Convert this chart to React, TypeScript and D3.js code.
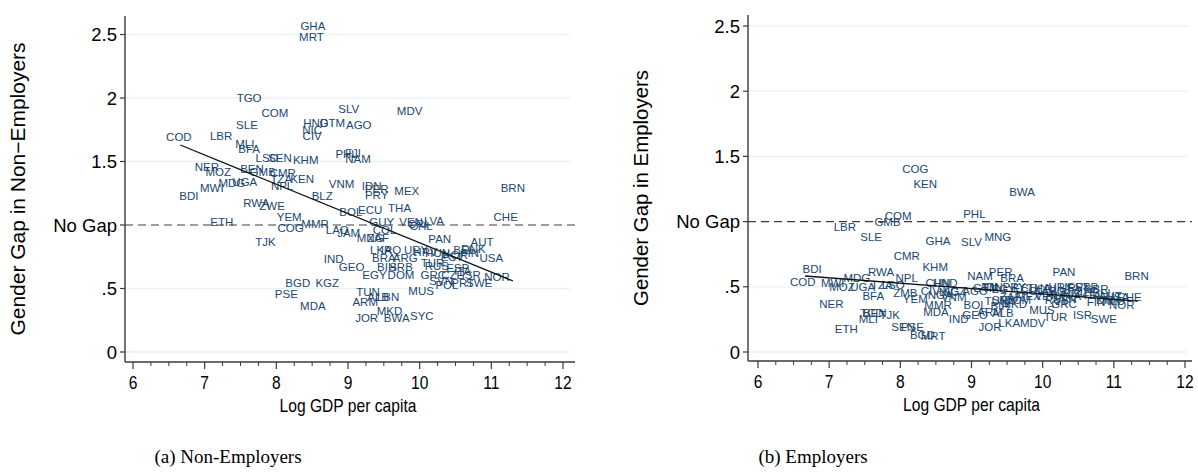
import React from "react";
import * as d3 from "d3";

type Pt = [string, number, number];

// country code, log GDP per capita, gender gap (non-employers)
const nonEmployers: Pt[] = [
  ["GHA", 8.51, 2.57], ["MRT", 8.49, 2.48], ["TGO", 7.62, 2.0], ["COM", 7.98, 1.88],
  ["SLE", 7.59, 1.79], ["LBR", 7.23, 1.7], ["COD", 6.64, 1.69], ["MLI", 7.56, 1.64],
  ["BFA", 7.62, 1.6], ["LSO", 7.87, 1.53], ["SEN", 8.05, 1.53], ["KHM", 8.41, 1.51],
  ["NER", 7.03, 1.46], ["MOZ", 7.19, 1.42], ["BEN", 7.66, 1.44], ["GMB", 7.81, 1.42],
  ["CMR", 8.09, 1.41], ["TZA", 8.07, 1.36], ["KEN", 8.36, 1.36], ["NPL", 8.08, 1.31],
  ["UGA", 7.56, 1.34], ["MDG", 7.38, 1.33], ["MWI", 7.1, 1.29], ["BDI", 6.78, 1.23],
  ["BLZ", 8.64, 1.23], ["VNM", 8.91, 1.32], ["RWA", 7.72, 1.17], ["ZWE", 7.94, 1.15],
  ["YEM", 8.18, 1.06], ["ETH", 7.24, 1.02], ["COG", 8.2, 0.98], ["MMR", 8.54, 1.01],
  ["TJK", 7.85, 0.87], ["LAO", 8.85, 0.96], ["JAM", 9.01, 0.94], ["IND", 8.8, 0.73],
  ["GEO", 9.05, 0.67], ["BGD", 8.3, 0.54], ["KGZ", 8.71, 0.54], ["PSE", 8.14, 0.46],
  ["MDA", 8.51, 0.36], ["BOL", 9.04, 1.1], ["ECU", 9.31, 1.12], ["THA", 9.72, 1.13],
  ["IDN", 9.33, 1.31], ["PER", 9.4, 1.28], ["PRY", 9.4, 1.24], ["MEX", 9.82, 1.27],
  ["BRN", 11.3, 1.29], ["CHE", 11.2, 1.06], ["GUY", 9.47, 1.02], ["COL", 9.51, 0.96],
  ["VEN", 9.88, 1.02], ["CRI", 9.97, 1.01], ["CHL", 10.02, 0.99], ["LVA", 10.2, 1.03],
  ["MNG", 9.31, 0.9], ["ZAF", 9.42, 0.9], ["PAN", 10.28, 0.89], ["AUT", 10.87, 0.87],
  ["LKA", 9.46, 0.8], ["IRQ", 9.6, 0.8], ["BRA", 9.5, 0.74], ["ARG", 9.8, 0.74],
  ["URY", 9.95, 0.8], ["HRV", 10.08, 0.79], ["HUN", 10.25, 0.78], ["KOR", 10.5, 0.76],
  ["EST", 10.45, 0.75], ["BEL", 10.62, 0.8], ["DNK", 10.75, 0.81], ["FIN", 10.7, 0.78],
  ["USA", 11.0, 0.74], ["BIH", 9.54, 0.67], ["SRB", 9.74, 0.67], ["EGY", 9.37, 0.61],
  ["DOM", 9.74, 0.61], ["RUS", 10.24, 0.68], ["TUR", 10.18, 0.7], ["GRC", 10.19, 0.61],
  ["ESP", 10.53, 0.66], ["CZE", 10.46, 0.61], ["ITA", 10.6, 0.64], ["ISR", 10.72, 0.61],
  ["NOR", 11.08, 0.59], ["SWE", 10.83, 0.54], ["SVN", 10.3, 0.56], ["POL", 10.38, 0.53],
  ["PRT", 10.6, 0.54], ["MUS", 10.02, 0.48], ["TUN", 9.28, 0.47], ["ALB", 9.42, 0.43],
  ["LBN", 9.56, 0.43], ["ARM", 9.24, 0.39], ["MKD", 9.58, 0.32], ["JOR", 9.26, 0.27],
  ["BWA", 9.68, 0.27], ["SYC", 10.03, 0.28], ["SLV", 9.01, 1.91], ["MDV", 9.86, 1.9],
  ["HND", 8.55, 1.8], ["GTM", 8.78, 1.8], ["AGO", 9.15, 1.79], ["NIC", 8.5, 1.75],
  ["CIV", 8.5, 1.7], ["PHL", 8.98, 1.56], ["FJI", 9.07, 1.57], ["NAM", 9.14, 1.52],
];

// country code, log GDP per capita, gender gap (employers)
const employers: Pt[] = [
  ["COG", 8.21, 1.4], ["KEN", 8.35, 1.29], ["BWA", 9.71, 1.23], ["PHL", 9.04, 1.06],
  ["COM", 7.97, 1.04], ["GMB", 7.82, 1.0], ["LBR", 7.22, 0.96], ["SLE", 7.59, 0.88],
  ["GHA", 8.53, 0.85], ["SLV", 9.0, 0.84], ["MNG", 9.37, 0.88], ["CMR", 8.09, 0.74],
  ["KHM", 8.49, 0.65], ["BDI", 6.76, 0.64], ["COD", 6.63, 0.54], ["RWA", 7.73, 0.61],
  ["NPL", 8.09, 0.57], ["MWI", 7.05, 0.53], ["MDG", 7.39, 0.57], ["MOZ", 7.18, 0.5],
  ["UGA", 7.47, 0.5], ["TZA", 7.74, 0.51], ["LSO", 7.9, 0.51], ["ZMB", 8.07, 0.45],
  ["BFA", 7.62, 0.43], ["NER", 7.03, 0.37], ["YEM", 8.21, 0.41], ["NGA", 8.56, 0.44],
  ["TCD", 7.6, 0.3], ["BEN", 7.64, 0.3], ["TJK", 7.85, 0.28], ["MLI", 7.55, 0.25],
  ["ETH", 7.24, 0.18], ["SEN", 8.04, 0.19], ["PSE", 8.17, 0.19], ["BGD", 8.31, 0.13],
  ["MRT", 8.46, 0.12], ["MMR", 8.53, 0.36], ["MDA", 8.5, 0.31], ["IND", 8.82, 0.25],
  ["GEO", 9.05, 0.28], ["BOL", 9.05, 0.36], ["JOR", 9.26, 0.19], ["LKA", 9.53, 0.22],
  ["ARM", 9.26, 0.31], ["ALB", 9.44, 0.3], ["MDV", 9.86, 0.22], ["MUS", 9.99, 0.32],
  ["TUR", 10.18, 0.27], ["ISR", 10.56, 0.28], ["SWE", 10.86, 0.25], ["SVN", 10.31, 0.41],
  ["CHE", 11.22, 0.42], ["NOR", 11.11, 0.36], ["BRN", 11.32, 0.58], ["PAN", 10.3, 0.61],
  ["PER", 9.41, 0.61], ["NAM", 9.12, 0.58], ["BRA", 9.57, 0.57], ["CHN", 8.53, 0.53],
  ["HND", 8.63, 0.53], ["AGO", 9.05, 0.47], ["GTM", 9.2, 0.49], ["IDN", 9.3, 0.5],
  ["EGY", 9.45, 0.48], ["PRY", 9.6, 0.5], ["ECU", 9.75, 0.49], ["COL", 9.85, 0.47],
  ["THA", 9.95, 0.49], ["CRI", 10.05, 0.48], ["ARG", 10.15, 0.47], ["URY", 10.25, 0.5],
  ["HRV", 10.4, 0.49], ["EST", 10.5, 0.5], ["POL", 10.45, 0.45], ["CZE", 10.6, 0.46],
  ["ESP", 10.62, 0.5], ["GBR", 10.75, 0.48], ["ITA", 10.7, 0.44], ["BEL", 10.85, 0.45],
  ["MEX", 9.8, 0.43], ["DOM", 9.65, 0.4], ["ZAF", 9.55, 0.42], ["SRB", 9.45, 0.4],
  ["TUN", 9.35, 0.39], ["BIH", 9.4, 0.35], ["MKD", 9.6, 0.37], ["VNM", 8.75, 0.42],
  ["NIC", 8.68, 0.46], ["CIV", 8.42, 0.47], ["VEN", 10.05, 0.43], ["FIN", 10.75, 0.38],
  ["DNK", 10.92, 0.4], ["AUT", 10.95, 0.43], ["NLD", 11.0, 0.39], ["USA", 11.05, 0.42],
  ["FJI", 9.25, 0.5], ["LVA", 10.4, 0.43], ["HUN", 10.22, 0.44], ["RUS", 10.2, 0.4],
  ["GRC", 10.3, 0.37], ["KGZ", 8.76, 0.47],
];

// fitted line end points (log GDP, gap)
const nonEmpFit: [number, number][] = [[6.66, 1.63], [11.3, 0.56]];
const empFit: [number, number][] = [[6.66, 0.583], [11.34, 0.39]];

const xTicks = [6, 7, 8, 9, 10, 11, 12];
const yTicks = [0, 0.5, 1, 1.5, 2, 2.5];
const yTickLabels = ["0", ".5", "No Gap", "1.5", "2", "2.5"];

const navy = "#1a476f";
const grid = "#eaf2f3";
const axisCol = "#3a3a3a";
const sans = "'Liberation Sans', Arial, Helvetica, sans-serif";
const serif = "'Liberation Serif', 'DejaVu Serif', serif";

type PanelProps = {
  data: Pt[];
  fit: [number, number][];
  frame: { left: number; right: number; top: number; bottom: number };
  xRange: [number, number];
  yRange: [number, number];
  yTitle: string;
  yTitleLen: number;
};

const Panel = ({ data, fit, frame, xRange, yRange, yTitle, yTitleLen }: PanelProps) => {
  const x = d3.scaleLinear().domain([6, 12]).range(xRange);
  const y = d3.scaleLinear().domain([0, 2.5]).range(yRange);
  const line = d3.line<[number, number]>().x((d) => x(d[0])).y((d) => y(d[1]));
  const minor = d3.range(6, 12.001, 0.25).filter((v) => v % 1 !== 0);
  const midY = (frame.top + frame.bottom) / 2;

  return (
    <g>
      {/* grid lines */}
      {yTicks.filter((t) => t !== 1).map((t) => (
        <line key={t} x1={frame.left} x2={frame.right - 5} y1={y(t)} y2={y(t)} stroke={grid} strokeWidth={1.3} />
      ))}
      {/* no-gap reference */}
      <line x1={frame.left} x2={frame.right} y1={y(1)} y2={y(1)} stroke="#3c3c3c" strokeWidth={1.2} strokeDasharray="8,5" />

      {/* country labels */}
      {data.map(([code, gx, gy], i) => (
        <text key={i} x={x(gx)} y={y(gy)} textAnchor="middle" dominantBaseline="central"
          fontFamily={sans} fontSize={11.5} fill={navy}>{code}</text>
      ))}

      {/* fitted line */}
      <path d={line(fit) || ""} fill="none" stroke="#111" strokeWidth={1.3} />

      {/* y axis */}
      <line x1={frame.left} x2={frame.left} y1={frame.top} y2={frame.bottom} stroke={axisCol} strokeWidth={1.4} />
      {yTicks.map((t, i) => (
        <g key={t}>
          <line x1={frame.left - 5} x2={frame.left} y1={y(t)} y2={y(t)} stroke={axisCol} strokeWidth={1.2} />
          <text x={frame.left - 8} y={y(t)} textAnchor="end" dominantBaseline="central"
            fontFamily={sans} fontSize={18.5} fill="#000">{yTickLabels[i]}</text>
        </g>
      ))}
      <text transform={`translate(${frame.left - 107},${midY}) rotate(-90)`} textAnchor="middle"
        dominantBaseline="central" fontFamily={sans} fontSize={20} fill="#000"
        textLength={yTitleLen} lengthAdjust="spacingAndGlyphs">{yTitle}</text>

      {/* x axis */}
      <line x1={frame.left} x2={frame.right} y1={frame.bottom} y2={frame.bottom} stroke={axisCol} strokeWidth={1.4} />
      {xTicks.map((t) => (
        <g key={t}>
          <line x1={x(t)} x2={x(t)} y1={frame.bottom} y2={frame.bottom + 7} stroke={axisCol} strokeWidth={1.2} />
          <text transform={`translate(${x(t)},${frame.bottom + 20}) scale(0.82,1)`} textAnchor="middle"
            dominantBaseline="central" fontFamily={sans} fontSize={19} fill="#000">{t}</text>
        </g>
      ))}
      {minor.map((t) => (
        <line key={t} x1={x(t)} x2={x(t)} y1={frame.bottom} y2={frame.bottom + 4} stroke={axisCol} strokeWidth={1} />
      ))}
      <text x={(x(6) + x(12)) / 2} y={frame.bottom + 43} textAnchor="middle" dominantBaseline="central"
        fontFamily={sans} fontSize={19} fill="#000" textLength={137}
        lengthAdjust="spacingAndGlyphs">Log GDP per capita</text>
    </g>
  );
};

export default function App() {
  return (
    <svg width={1198} height={475} style={{ position: "absolute", left: 0, top: 0, background: "#fff" }}
      xmlns="http://www.w3.org/2000/svg">
      <rect width={1198} height={475} fill="#fff" />
      <Panel data={nonEmployers} fit={nonEmpFit}
        frame={{ left: 125, right: 575, top: 16, bottom: 362 }}
        xRange={[133, 563]} yRange={[352, 34.5]}
        yTitle="Gender Gap in Non−Employers" yTitleLen={293} />
      <Panel data={employers} fit={empFit}
        frame={{ left: 748, right: 1192, top: 15, bottom: 361 }}
        xRange={[758, 1185]} yRange={[352, 26]}
        yTitle="Gender Gap in Employers" yTitleLen={236} />
      <text x={228} y={456} textAnchor="middle" dominantBaseline="central"
        fontFamily={serif} fontSize={19} fill="#000">(a) Non-Employers</text>
      <text x={813} y={456} textAnchor="middle" dominantBaseline="central"
        fontFamily={serif} fontSize={19} fill="#000">(b) Employers</text>
    </svg>
  );
}
